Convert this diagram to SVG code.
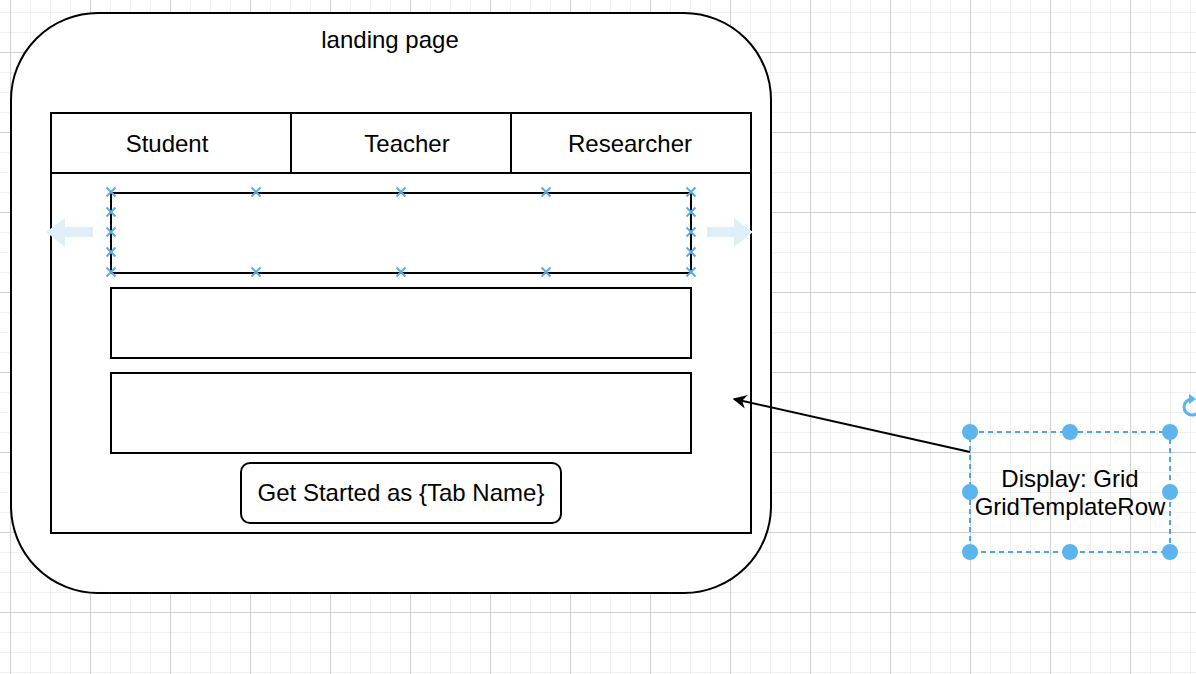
<svg xmlns="http://www.w3.org/2000/svg" width="1196" height="674" viewBox="0 0 1196 674">
  <style>
    .t { font-family: "Liberation Sans", Arial, sans-serif; font-size: 24px; fill: #000; text-anchor: middle; }
    .box { fill: #fff; stroke: #000; stroke-width: 2; }
    .mark { stroke: #5aaee8; stroke-width: 2; fill: none; }
    .handle { fill: #5cb4ed; }
    .ghost { fill: #dfeffa; }
  </style>
  <defs>
    <pattern id="grid" patternUnits="userSpaceOnUse" x="10" y="52" width="80" height="80">
      <rect x="0" y="20" width="80" height="1" fill="#f0f0f0"/>
      <rect x="0" y="40" width="80" height="1" fill="#f0f0f0"/>
      <rect x="0" y="60" width="80" height="1" fill="#f0f0f0"/>
      <rect x="20" y="0" width="1" height="80" fill="#f0f0f0"/>
      <rect x="40" y="0" width="1" height="80" fill="#f0f0f0"/>
      <rect x="60" y="0" width="1" height="80" fill="#f0f0f0"/>
      <rect x="0" y="0" width="80" height="1" fill="#d0d0d0"/>
      <rect x="0" y="0" width="1" height="80" fill="#d0d0d0"/>
    </pattern>
    <marker id="arrow" viewBox="0 0 10 10" refX="9" refY="5" markerWidth="14" markerHeight="14" markerUnits="userSpaceOnUse" orient="auto">
      <path d="M0,0 L10,5 L0,10 L3,5 Z" fill="#000"/>
    </marker>
    <path id="xm" d="M-4.5,-4.5 L4.5,4.5 M-4.5,4.5 L4.5,-4.5"/>
  </defs>

  <rect x="0" y="0" width="1196" height="674" fill="#fff"/>
  <rect x="0" y="0" width="1196" height="674" fill="url(#grid)"/>

  <g id="landing-page">
    <rect class="box" x="11" y="13" width="760" height="580" rx="87" ry="87"/>
    <text class="t" x="390" y="48">landing page</text>
  </g>

  <g id="tabs">
    <rect class="box" x="51" y="113" width="700" height="420"/>
    <line x1="51" y1="173" x2="751" y2="173" stroke="#000" stroke-width="2"/>
    <line x1="291" y1="113" x2="291" y2="173" stroke="#000" stroke-width="2"/>
    <line x1="511" y1="113" x2="511" y2="173" stroke="#000" stroke-width="2"/>
  </g>
  <g id="tab-student"><text class="t" x="167" y="152">Student</text></g>
  <g id="tab-teacher"><text class="t" x="407" y="152">Teacher</text></g>
  <g id="tab-researcher"><text class="t" x="630" y="152">Researcher</text></g>

  <g id="row-1">
    <rect class="box" x="111" y="193" width="580" height="80"/>
    <g class="mark">
      <use href="#xm" x="111" y="192"/><use href="#xm" x="256" y="192"/><use href="#xm" x="401" y="192"/><use href="#xm" x="546" y="192"/><use href="#xm" x="691" y="192"/>
      <use href="#xm" x="111" y="272"/><use href="#xm" x="256" y="272"/><use href="#xm" x="401" y="272"/><use href="#xm" x="546" y="272"/><use href="#xm" x="691" y="272"/>
      <use href="#xm" x="111" y="212"/><use href="#xm" x="111" y="232"/><use href="#xm" x="111" y="252"/>
      <use href="#xm" x="691" y="212"/><use href="#xm" x="691" y="232"/><use href="#xm" x="691" y="252"/>
    </g>
    <path class="ghost" d="M46,232 L65,218 L65,227 L93,227 L93,237 L65,237 L65,247 Z"/>
    <path class="ghost" d="M753,232 L734,218 L734,227 L707,227 L707,237 L734,237 L734,247 Z"/>
  </g>

  <g id="row-2">
    <rect class="box" x="111" y="288" width="580" height="70"/>
  </g>

  <g id="row-3">
    <rect class="box" x="111" y="373" width="580" height="80"/>
  </g>

  <g id="button">
    <rect class="box" x="241" y="463" width="320" height="60" rx="9" ry="9"/>
    <text class="t" x="401" y="501">Get Started as {Tab Name}</text>
  </g>

  <g id="connectors">
    <line x1="970" y1="452" x2="734" y2="399" stroke="#000" stroke-width="2" marker-end="url(#arrow)"/>
  </g>

  <g id="grid-note">
    <rect x="970" y="432" width="200" height="120" fill="none" stroke="#4ea6e8" stroke-width="2" stroke-dasharray="5 4"/>
    <text class="t" x="1070" y="487">Display: Grid</text>
    <text class="t" x="1070" y="515">GridTemplateRow</text>
    <circle class="handle" cx="970" cy="432" r="8"/>
    <circle class="handle" cx="1070" cy="432" r="8"/>
    <circle class="handle" cx="1170" cy="432" r="8"/>
    <circle class="handle" cx="970" cy="492" r="8"/>
    <circle class="handle" cx="1170" cy="492" r="8"/>
    <circle class="handle" cx="970" cy="552" r="8"/>
    <circle class="handle" cx="1070" cy="552" r="8"/>
    <circle class="handle" cx="1170" cy="552" r="8"/>
    <path d="M1200,407 A8,8 0 1 1 1192,399" fill="none" stroke="#5cb4ed" stroke-width="3"/>
    <path d="M1189,394 L1196,399 L1189,404 Z" fill="#5cb4ed"/>
  </g>
</svg>
